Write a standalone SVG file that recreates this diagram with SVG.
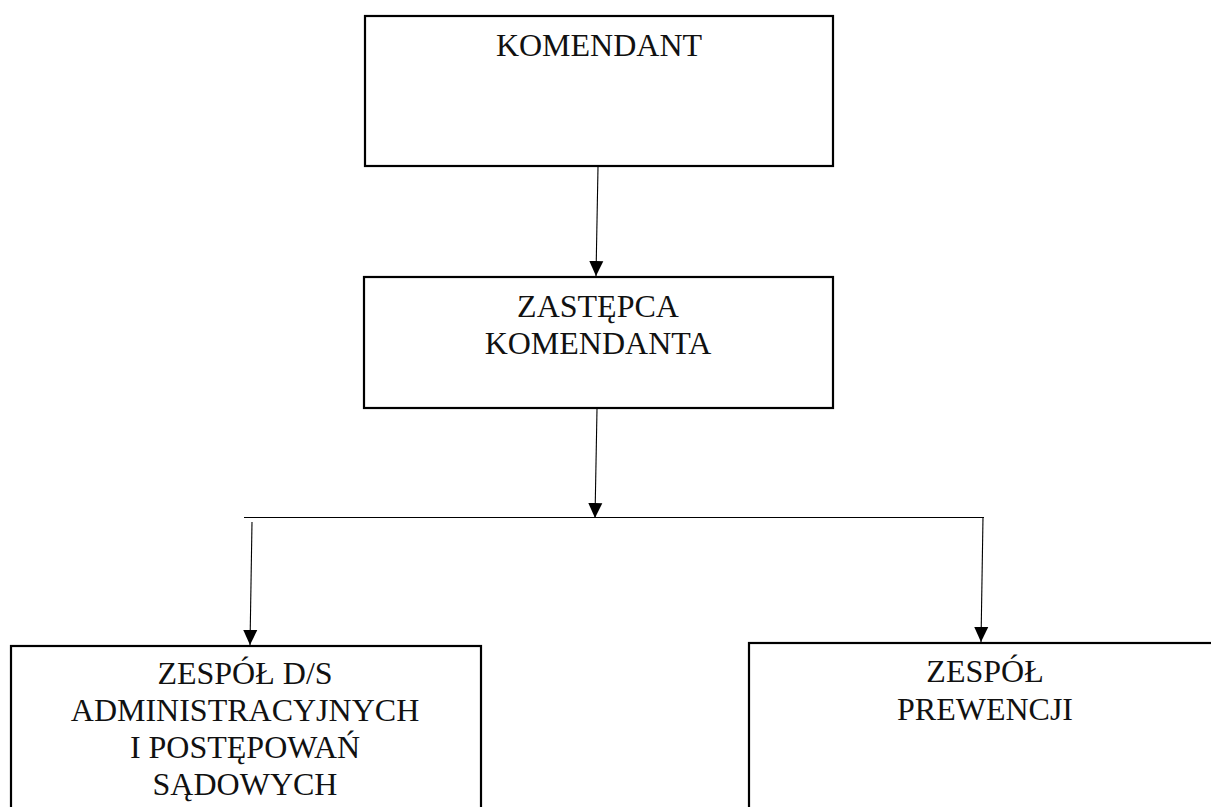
<svg xmlns="http://www.w3.org/2000/svg" width="1211" height="807" viewBox="0 0 1211 807">
<style>
.box{fill:#fff;stroke:#000;stroke-width:2.2}
.lbl{font-family:"Liberation Serif","Times New Roman",serif;font-size:32px;fill:#111;text-anchor:middle}
.con{stroke:#000;stroke-width:1.1;fill:none}
</style>
<defs>
<marker id="ah" markerWidth="15" markerHeight="16" refX="16" refY="7.5" orient="auto" markerUnits="userSpaceOnUse" viewBox="0 0 16 15">
<path d="M0,0 L16,7.5 L0,15 Z" fill="#000"/>
</marker>
</defs>
<rect width="1211" height="807" fill="#fff"/>
<g id="connectors">
<line class="con" x1="598" y1="167" x2="596" y2="276" marker-end="url(#ah)"/>
<line class="con" x1="597" y1="409" x2="595" y2="518" marker-end="url(#ah)"/>
<line class="con" x1="244" y1="517.5" x2="984" y2="517.5"/>
<line class="con" x1="252" y1="522" x2="250" y2="645" marker-end="url(#ah)"/>
<line class="con" x1="983" y1="517" x2="981" y2="642" marker-end="url(#ah)"/>
</g>
<g id="komendant">
<rect class="box" x="365" y="16" width="468" height="150"/>
<text class="lbl" x="599" y="56">KOMENDANT</text>
</g>
<g id="zastepca">
<rect class="box" x="364" y="277" width="469" height="131"/>
<text class="lbl" x="598" y="317">ZASTĘPCA</text>
<text class="lbl" x="598" y="354">KOMENDANTA</text>
</g>
<g id="zespol-ds">
<rect class="box" x="11" y="646" width="470" height="180"/>
<text class="lbl" x="245" y="684">ZESPÓŁ D/S</text>
<text class="lbl" x="245" y="721">ADMINISTRACYJNYCH</text>
<text class="lbl" x="245" y="758">I POSTĘPOWAŃ</text>
<text class="lbl" x="245" y="795">SĄDOWYCH</text>
</g>
<g id="zespol-prewencji">
<rect class="box" x="749" y="643" width="480" height="180"/>
<text class="lbl" x="985" y="682">ZESPÓŁ</text>
<text class="lbl" x="985" y="720">PREWENCJI</text>
</g>
</svg>
